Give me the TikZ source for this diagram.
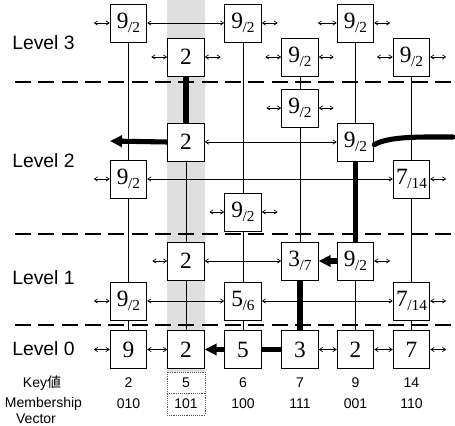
\documentclass[tikz,border=0pt]{standalone}
\usepackage{fontspec}
\setmainfont{Liberation Serif}
\newfontfamily\sansf{Liberation Sans}
\newfontfamily\cjkf{Noto Sans CJK JP}
\usetikzlibrary{arrows.meta}
\newcommand\fr[2]{#1\kern-0.3pt\raisebox{-0.4ex}{\fontsize{11.5}{11.5}\selectfont/#2}}
\begin{document}
\begin{tikzpicture}[x=0.75pt,y=-0.75pt,
 box/.style={draw,line width=0.6pt,fill=white,minimum width=27.5pt,minimum height=28.5pt,inner sep=0pt,font=\fontsize{17.5}{17.5}\selectfont},
 link/.style={line width=0.5pt,{Straight Barb[length=2.5pt,width=3.2pt]}-{Straight Barb[length=2.5pt,width=3.2pt]}},
 vline/.style={line width=0.5pt},
 bold/.style={line width=3.8pt},
 boldarrow/.style={line width=3.8pt,-{Triangle[length=9pt,width=8.5pt]}},
 lvl/.style={font=\sansf\fontsize{14.5}{14.5}\selectfont,anchor=west,inner sep=0pt},
 small/.style={font=\sansf\fontsize{10.5}{10.5}\selectfont,inner sep=0pt},
 sep/.style={line width=2.2pt,dash pattern=on 12pt off 5.5pt}]
\useasboundingbox (0,0) rectangle (455,426);
% shaded column
\fill[gray!25] (167,0) rectangle (205,372);
\draw[densely dotted,gray!70!black,line width=0.4pt] (167,372) rectangle (205,415);
\draw[densely dotted,gray!70!black,line width=0.4pt] (167,393) -- (205,393);
% level separators
\draw[sep] (15,82) -- (455,82);
\draw[sep] (15,234) -- (455,234);
\draw[sep] (15,325) -- (455,325);
% level labels
\node[lvl] (L3) at (12,43) {Level 3};
\node[lvl] (L2) at (12,161) {Level 2};
\node[lvl] (L1) at (12,278) {Level 1};
\node[lvl] (L0) at (12,349) {Level 0};
% nodes
\node[box] (a1) at (128.5,23) {\fr{9}{2}};
\node[box] (a2) at (243,23) {\fr{9}{2}};
\node[box] (a3) at (355.5,23) {\fr{9}{2}};
\node[box] (b1) at (186,57) {2};
\node[box] (b2) at (300,57) {\fr{9}{2}};
\node[box] (b3) at (411.5,57) {\fr{9}{2}};
\node[box] (c1) at (300,108) {\fr{9}{2}};
\node[box] (d1) at (186,142) {2};
\node[box] (d2) at (355.5,142) {\fr{9}{2}};
\node[box] (e1) at (128.5,179) {\fr{9}{2}};
\node[box] (e2) at (411.5,179) {\fr{7}{14}};
\node[box] (f1) at (243,212) {\fr{9}{2}};
\node[box] (g1) at (186,261) {2};
\node[box] (g2) at (300,261) {\fr{3}{7}};
\node[box] (g3) at (355.5,261) {\fr{9}{2}};
\node[box] (h1) at (128.5,301) {\fr{9}{2}};
\node[box] (h2) at (243,301) {\fr{5}{6}};
\node[box] (h3) at (411.5,301) {\fr{7}{14}};
\node[box] (k1) at (128.5,349.5) {9};
\node[box] (k2) at (186,349.5) {2};
\node[box] (k3) at (243,349.5) {5};
\node[box] (k4) at (300,349.5) {3};
\node[box] (k5) at (355.5,349.5) {2};
\node[box] (k6) at (411.5,349.5) {7};
% vertical links
\draw[vline] (a1.south) -- (e1.north);
\draw[vline] (e1.south) -- (h1.north);
\draw[vline] (h1.south) -- (k1.north);
\draw[vline] (d1.south) -- (g1.north);
\draw[vline] (g1.south) -- (k2.north);
\draw[vline] (a2.south) -- (f1.north);
\draw[vline] (f1.south) -- (h2.north);
\draw[vline] (h2.south) -- (k3.north);
\draw[vline] (b2.south) -- (c1.north);
\draw[vline] (c1.south) -- (g2.north);
\draw[vline] (a3.south) -- (d2.north);
\draw[vline] (g3.south) -- (k5.north);
\draw[vline] (b3.south) -- (e2.north);
\draw[vline] (e2.south) -- (h3.north);
\draw[vline] (h3.south) -- (k6.north);
% horizontal links and stubs
\draw[link] (a1.west) -- ++(-16,0);
\draw[link] (a1.east) -- (a2.west);
\draw[link] (a2.east) -- ++(16,0);
\draw[link] (a3.west) -- ++(-19,0);
\draw[link] (a3.east) -- ++(16,0);
\draw[link] (b1.west) -- ++(-16,0);
\draw[link] (b1.east) -- ++(16,0);
\draw[link] (b2.west) -- ++(-16,0);
\draw[link] (b2.east) -- ++(15,0);
\draw[link] (b3.west) -- ++(-16,0);
\draw[link] (b3.east) -- ++(16,0);
\draw[link] (c1.west) -- ++(-15,0);
\draw[link] (c1.east) -- ++(15,0);
\draw[link] (d1.east) -- (d2.west);
\draw[link] (e1.west) -- ++(-16,0);
\draw[link] (e1.east) -- (e2.west);
\draw[link] (e2.east) -- ++(16,0);
\draw[link] (f1.west) -- ++(-15,0);
\draw[link] (f1.east) -- ++(16,0);
\draw[link] (g1.west) -- ++(-15,0);
\draw[link] (g1.east) -- (g2.west);
\draw[link] (g3.east) -- ++(16,0);
\draw[link] (h1.west) -- ++(-16,0);
\draw[link] (h1.east) -- (h2.west);
\draw[link] (h2.east) -- (h3.west);
\draw[link] (h3.east) -- ++(16,0);
\draw[link] (k1.west) -- ++(-16,0);
\draw[link] (k1.east) -- (k2.west);
\draw[link] (k4.east) -- (k5.west);
\draw[link] (k5.east) -- (k6.west);
\draw[link] (k6.east) -- ++(16,0);
% search paths
\coordinate (lt) at (110,141);
\coordinate (rt) at (453,137);
\draw[bold] (b1.south) -- (d1.north);
\draw[boldarrow] (d1.west) -- (lt);
\draw[bold,line cap=round] ([yshift=-2]d2.east) .. controls (390,136) and (420,137) .. (rt);
\draw[bold] (d2.south) -- (g3.north);
\draw[boldarrow] (g3.west) -- (g2.east);
\draw[bold] (g2.south) -- (k4.north);
\draw[bold] (k4.west) -- (k3.east);
\draw[boldarrow] (k3.west) -- (k2.east);
% keys
\node[small] (kl) at (42,383) {Key{\cjkf 値}};
\node[small] (ml) at (43.5,404) {Membership};
\node[small] (vl) at (36,419) {Vector};
\node[small] (k1k) at (128.5,383) {2};
\node[small] (k2k) at (186,383) {5};
\node[small] (k3k) at (243,383) {6};
\node[small] (k4k) at (300,383) {7};
\node[small] (k5k) at (355.5,383) {9};
\node[small] (k6k) at (411.5,383) {14};
\node[small] (m1) at (128.5,404) {010};
\node[small] (m2) at (186,404) {101};
\node[small] (m3) at (243,404) {100};
\node[small] (m4) at (300,404) {111};
\node[small] (m5) at (355.5,404) {001};
\node[small] (m6) at (411.5,404) {110};
\end{tikzpicture}
\end{document}
